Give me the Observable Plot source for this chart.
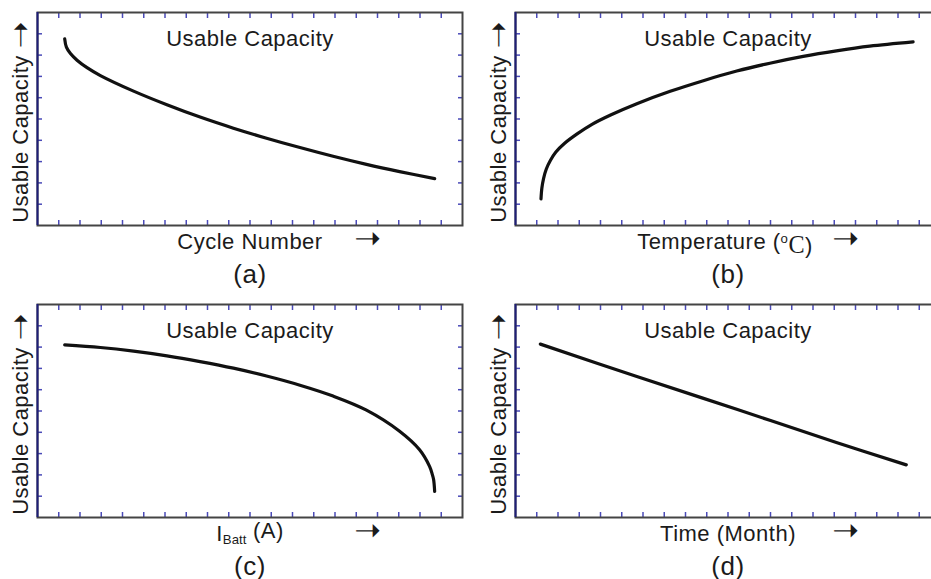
<!DOCTYPE html>
<html><head><meta charset="utf-8">
<script src="https://cdn.jsdelivr.net/npm/d3@7"></script>
<script src="https://cdn.jsdelivr.net/npm/@observablehq/plot@0.6"></script>
<style>
body{margin:0;background:#fff;}
#wrap{position:relative;width:931px;height:579px;overflow:hidden;background:#fff;}
.panel{position:absolute;overflow:visible;}
.panel svg{max-width:none !important;}
.panel text{letter-spacing:0.5px;}
</style></head><body><div id="wrap"></div>
<script>
// ---- data ----
const panelTags = ["(a)", "(b)", "(c)", "(d)"];
const panelTitle = "Usable Capacity";
const yLabel = "Usable Capacity";
const arrowGlyph = "➝";
const xLabels = ["Cycle Number", "Temperature (oC)", "IBatt (A)", "Time (Month)"];
const xTicks = [1,2,3,4,5,6,7,8,9,10,11,12,13,14,15,16,17,18,19];
const yTicks = [1,2,3,4,5,6,7,8,9];
const xDomain = [0, 20];
const yDomain = [0, 10];

// (a) capacity vs cycle number
const cycleX = [1.28, 1.36, 1.55, 1.86, 2.33, 2.96, 4.52, 6.09, 7.65, 9.22, 10.78, 12.35, 13.91, 15.48, 17.04, 18.69];
const cycleY = [8.76, 8.37, 8.07, 7.76, 7.41, 7.04, 6.31, 5.67, 5.09, 4.57, 4.10, 3.66, 3.25, 2.87, 2.53, 2.20];
// (b) capacity vs temperature
const tempX = [1.20, 1.24, 1.32, 1.45, 1.64, 1.90, 2.30, 2.90, 3.60, 4.50, 5.71, 7.28, 8.84, 10.41, 11.97, 13.54, 15.10, 16.67, 18.71];
const tempY = [1.25, 1.75, 2.20, 2.65, 3.05, 3.45, 3.85, 4.30, 4.75, 5.20, 5.72, 6.30, 6.80, 7.25, 7.62, 7.94, 8.20, 8.42, 8.62];
// (c) capacity vs battery current
const currX = [1.28, 2.96, 4.52, 6.09, 7.65, 9.22, 10.78, 12.35, 13.91, 15.48, 17.04, 17.98, 18.45, 18.57, 18.64, 18.69];
const currY = [8.10, 7.98, 7.81, 7.59, 7.32, 7.01, 6.64, 6.21, 5.70, 5.04, 4.05, 3.18, 2.40, 2.05, 1.78, 1.22];
// (d) capacity vs time
const timeX = [1.17, 5.71, 10.41, 15.10, 18.39];
const timeY = [8.14, 6.62, 5.08, 3.52, 2.47];

const series = [[cycleX, cycleY], [tempX, tempY], [currX, currY], [timeX, timeY]];

// ---- layout ----
const layout = [
  {left: 0,   top: 0,   w: 470, h: 290, mt: 12, mb: 65, ml: 37, mr: 8,  lx: 0},
  {left: 470, top: 0,   w: 480, h: 290, mt: 12, mb: 65, ml: 45, mr: 10, lx: -3},
  {left: 0,   top: 290, w: 470, h: 289, mt: 14, mb: 62, ml: 37, mr: 8,  lx: 0},
  {left: 470, top: 290, w: 480, h: 289, mt: 14, mb: 62, ml: 45, mr: 10, lx: 0}
];
const font = "Liberation Sans, Arial, Helvetica, sans-serif";
const arrowFont = "DejaVu Sans, sans-serif";
const tickColor = "#4a4ab8";
const ink = "#1b1b1b";

const wrap = document.getElementById("wrap");

series.forEach(([xs, ys], i) => {
  const L = layout[i];
  const data = xs.map((x, j) => ({x, y: ys[j]}));
  const tickOpts = {tickSize: -5, tickFormat: () => "", label: null, stroke: tickColor, strokeWidth: 1.5};
  const txt = {text: d => d, fill: ink, fontFamily: font};
  const arr = {text: d => d, fill: ink, fontFamily: arrowFont, fontSize: 32, lineAnchor: "bottom", textAnchor: "middle"};
  const svg = Plot.plot({
    width: L.w, height: L.h,
    marginTop: L.mt, marginBottom: L.mb, marginLeft: L.ml, marginRight: L.mr,
    style: {maxWidth: "none", width: L.w + "px", overflow: "visible", background: "transparent", color: ink},
    x: {domain: xDomain, axis: null},
    y: {domain: yDomain, axis: null},
    marks: [
      Plot.axisX({...tickOpts, anchor: "bottom", ticks: xTicks}),
      Plot.axisX({...tickOpts, anchor: "top", ticks: xTicks}),
      Plot.axisY({...tickOpts, anchor: "left", ticks: yTicks}),
      Plot.axisY({...tickOpts, anchor: "right", ticks: yTicks}),
      Plot.frame({stroke: "#444", strokeWidth: 2}),
      Plot.ruleX([xDomain[0]], {stroke: "#1e1e78", strokeWidth: 2}),
      Plot.line(data, {x: "x", y: "y", curve: "catmull-rom", stroke: "#111", strokeWidth: 3.2, strokeLinecap: "round"}),
      Plot.text([panelTitle], {...txt, frameAnchor: "top", dy: 33, lineAnchor: "bottom", fontSize: 22}),
      Plot.text([yLabel], {...txt, frameAnchor: "left", textAnchor: "middle", rotate: -90, dx: -10, dy: 20, lineAnchor: "bottom", fontSize: 22}),
      Plot.text([arrowGlyph], {...arr, frameAnchor: "top-left", rotate: -90, dx: -7, dy: 22}),
      Plot.text([xLabels[i]], {...txt, frameAnchor: "bottom", dx: L.lx, dy: 23, lineAnchor: "bottom", fontSize: 22}),
      Plot.text([arrowGlyph], {...arr, frameAnchor: "bottom", dx: 118, dy: 23}),
      Plot.text([panelTags[i]], {...txt, frameAnchor: "bottom", dy: 57, lineAnchor: "bottom", fontSize: 26})
    ]
  });
  // rich formatting for superscript / subscript labels
  d3.select(svg).selectAll("text").each(function () {
    const t = this.textContent;
    if (t === "Temperature (oC)") {
      const s = d3.select(this).text(null);
      s.append("tspan").text("Temperature (");
      s.append("tspan").attr("dy", "-0.45em").attr("font-size", "0.6em").text("o");
      s.append("tspan").attr("dy", "0.45em").attr("font-family", "Liberation Serif, Times New Roman, serif").attr("font-size", "1.1em").text("C");
      s.append("tspan").text(")");
    } else if (t === "IBatt (A)") {
      const s = d3.select(this).text(null);
      s.append("tspan").text("I");
      s.append("tspan").attr("dy", "0.25em").attr("font-size", "0.6em").attr("letter-spacing", "0").text("Batt");
      s.append("tspan").attr("dy", "-0.25em").text(" (A)");
    }
  });
  const div = document.createElement("div");
  div.className = "panel";
  div.style.left = L.left + "px";
  div.style.top = L.top + "px";
  div.style.width = L.w + "px";
  div.style.height = L.h + "px";
  div.appendChild(svg);
  wrap.appendChild(div);
});
</script></body></html>
